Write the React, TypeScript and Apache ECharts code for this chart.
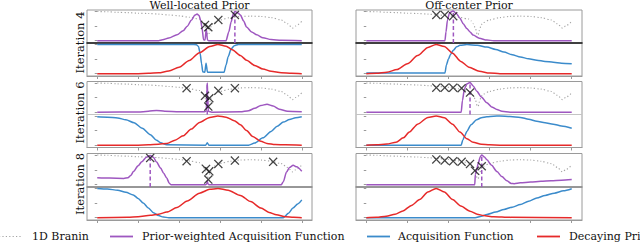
import React, { useEffect, useRef } from 'react';
import * as echarts from 'echarts';

type P = [number, number];

// ---------- data (x normalised 0..1, y normalised) ----------
const branin: P[] = [[0,1.0],[0.05,0.99],[0.1,0.97],[0.15,0.96],[0.2,0.94],[0.25,0.93],[0.3,0.91],[0.35,0.88],[0.4,0.85],[0.45,0.8],[0.5,0.74],[0.51,0.68],[0.52,0.58],[0.53,0.45],[0.54,0.22],[0.545,0.2],[0.55,0.35],[0.56,0.55],[0.57,0.62],[0.6,0.71],[0.65,0.79],[0.7,0.83],[0.75,0.84],[0.8,0.83],[0.85,0.79],[0.9,0.71],[0.93,0.58],[0.955,0.43],[0.97,0.5],[1.0,0.66]];

const l4Purple: P[] = [[0,0],[0.3,0],[0.32,0.03],[0.35,0.09],[0.39,0.2],[0.42,0.34],[0.44,0.49],[0.46,0.7],[0.478,0.88],[0.488,0.91],[0.498,0.86],[0.506,0.68],[0.512,0.45],[0.52,0.03],[0.527,0.02],[0.533,0.4],[0.539,0.02],[0.545,0],[0.63,0],[0.643,0.3],[0.655,0.65],[0.665,0.92],[0.673,1.0],[0.688,0.95],[0.7,0.88],[0.715,0.68],[0.73,0.47],[0.755,0.3],[0.78,0.2],[0.81,0.1],[0.85,0.04],[0.9,0.01],[1,0]];
const l4Argmax: P = [0.673, 1.0];
const l4Obs: P[] = [[0.527,0.54],[0.543,0.46],[0.592,0.71],[0.673,0.88]];
const l4Acq: P[] = [[0,1],[0.46,1],[0.485,0.99],[0.495,0.93],[0.503,0.7],[0.51,0.35],[0.516,0.06],[0.526,0.05],[0.532,0.36],[0.539,0.05],[0.62,0.05],[0.63,0.3],[0.64,0.58],[0.655,0.85],[0.67,0.96],[0.69,1.0],[1,1]];
const l4Prior: P[] = [[0,0],[0.2,0],[0.25,0.01],[0.3,0.03],[0.35,0.09],[0.4,0.22],[0.45,0.45],[0.5,0.72],[0.55,0.93],[0.59,1.0],[0.63,0.94],[0.66,0.82],[0.7,0.62],[0.73,0.46],[0.77,0.28],[0.81,0.16],[0.85,0.08],[0.9,0.03],[0.95,0.01],[1,0]];

const r4Purple: P[] = [[0,0],[0.383,0],[0.388,0.3],[0.395,0.7],[0.405,0.95],[0.422,1.02],[0.437,0.94],[0.456,0.77],[0.472,0.58],[0.489,0.42],[0.505,0.3],[0.52,0.19],[0.55,0.08],[0.587,0.02],[0.62,0],[1,0]];
const r4Argmax: P = [0.424, 1.02];
const r4Obs: P[] = [[0.341,0.88],[0.382,0.88],[0.423,0.84]];
const r4Acq: P[] = [[0,0.02],[0.383,0.02],[0.39,0.3],[0.4,0.5],[0.41,0.66],[0.424,0.8],[0.44,0.92],[0.456,0.97],[0.49,1.0],[0.54,0.97],[0.587,0.91],[0.63,0.83],[0.67,0.74],[0.71,0.65],[0.75,0.57],[0.79,0.51],[0.83,0.46],[0.87,0.42],[0.91,0.39],[0.95,0.36],[1,0.34]];
const r4Prior: P[] = [[0,0],[0.05,0.01],[0.1,0.05],[0.15,0.14],[0.2,0.34],[0.25,0.62],[0.3,0.9],[0.34,1.0],[0.38,0.93],[0.42,0.7],[0.46,0.42],[0.5,0.22],[0.55,0.08],[0.6,0.02],[0.65,0],[1,0]];

const l6Purple: P[] = [[0,0],[0.2,0.005],[0.25,0.03],[0.29,0.06],[0.33,0.03],[0.4,0.01],[0.52,0.01],[0.533,0.03],[0.536,0.6],[0.538,1.0],[0.54,0.6],[0.543,0.03],[0.56,0],[0.7,0.01],[0.74,0.05],[0.77,0.13],[0.8,0.23],[0.83,0.27],[0.86,0.21],[0.89,0.1],[0.93,0.03],[1,0.01]];
const l6Argmax: P = [0.538, 1.0];
const l6Obs: P[] = [[0.437,0.82],[0.527,0.56],[0.548,0.48],[0.543,0.19],[0.592,0.73],[0.673,0.82]];
const l6Acq: P[] = [[0,0.97],[0.05,0.96],[0.1,0.93],[0.14,0.87],[0.18,0.77],[0.22,0.58],[0.26,0.36],[0.29,0.17],[0.31,0.08],[0.34,0.01],[0.53,0],[0.538,0.08],[0.546,0],[0.74,0],[0.77,0.07],[0.81,0.25],[0.85,0.47],[0.88,0.65],[0.91,0.79],[0.94,0.88],[0.97,0.94],[1,0.97]];
const l6Prior: P[] = [[0,0],[0.2,0],[0.25,0.01],[0.3,0.03],[0.34,0.06],[0.38,0.17],[0.42,0.32],[0.46,0.55],[0.5,0.78],[0.55,0.95],[0.59,1.0],[0.63,0.96],[0.67,0.84],[0.7,0.7],[0.73,0.5],[0.76,0.3],[0.8,0.13],[0.83,0.06],[0.87,0.02],[0.92,0.01],[1,0]];

const r6Purple: P[] = [[0,0],[0.462,0],[0.468,0.4],[0.478,0.8],[0.49,0.97],[0.505,1.02],[0.52,0.9],[0.538,0.72],[0.56,0.52],[0.587,0.32],[0.61,0.18],[0.636,0.09],[0.66,0.03],[0.7,0],[1,0]];
const r6Argmax: P = [0.505, 1.02];
const r6Obs: P[] = [[0.341,0.84],[0.382,0.84],[0.423,0.84],[0.464,0.82],[0.505,0.67]];
const r6Acq: P[] = [[0,0],[0.462,0],[0.47,0.18],[0.48,0.33],[0.49,0.48],[0.51,0.7],[0.537,0.87],[0.56,0.94],[0.587,0.97],[0.62,0.99],[0.65,1.0],[0.7,0.98],[0.75,0.95],[0.79,0.89],[0.83,0.82],[0.87,0.77],[0.91,0.72],[0.95,0.66],[1,0.58]];
const r6Prior: P[] = [[0,0],[0.05,0.01],[0.1,0.04],[0.145,0.1],[0.18,0.25],[0.21,0.45],[0.25,0.72],[0.3,0.95],[0.34,1.0],[0.38,0.94],[0.42,0.72],[0.456,0.45],[0.49,0.22],[0.52,0.1],[0.56,0.03],[0.6,0.01],[0.65,0],[1,0]];

const l8Purple: P[] = [[0,0.23],[0.06,0.22],[0.13,0.21],[0.15,0.23],[0.165,0.32],[0.177,0.44],[0.2,0.64],[0.218,0.77],[0.24,0.92],[0.259,0.98],[0.275,0.92],[0.29,0.76],[0.31,0.56],[0.325,0.38],[0.34,0.22],[0.352,0.05],[0.36,0],[0.53,0],[0.536,0.03],[0.538,0.12],[0.541,0.03],[0.546,0],[0.9,0],[0.91,0.1],[0.925,0.42],[0.94,0.58],[0.958,0.65],[0.975,0.6],[1,0.45]];
const l8Argmax: P = [0.259, 0.98];
const l8Obs: P[] = [[0.259,0.9],[0.437,0.79],[0.532,0.53],[0.548,0.45],[0.543,0.17],[0.592,0.7],[0.673,0.81],[0.86,0.77]];
const l8Acq: P[] = [[0,1.0],[0.05,0.98],[0.1,0.94],[0.14,0.87],[0.176,0.78],[0.2,0.66],[0.225,0.5],[0.25,0.33],[0.275,0.17],[0.3,0.07],[0.323,0.02],[0.35,0],[0.91,0],[0.935,0.15],[0.957,0.33],[0.98,0.47],[1,0.61]];
const l8Prior: P[] = [[0,0],[0.15,0.01],[0.2,0.03],[0.26,0.08],[0.3,0.12],[0.34,0.19],[0.39,0.35],[0.44,0.57],[0.5,0.84],[0.55,0.97],[0.59,1.0],[0.64,0.94],[0.7,0.76],[0.75,0.55],[0.8,0.33],[0.84,0.18],[0.876,0.1],[0.92,0.03],[0.96,0.01],[1,0]];

const r8Purple: P[] = [[0,0],[0.528,0],[0.531,0.35],[0.537,0.5],[0.545,0.72],[0.555,0.94],[0.562,1.0],[0.575,0.93],[0.587,0.84],[0.61,0.65],[0.636,0.44],[0.66,0.27],[0.685,0.13],[0.705,0.04],[0.72,0.03],[0.75,0.06],[0.8,0.09],[0.85,0.11],[0.9,0.13],[0.95,0.15],[1,0.17]];
const r8Argmax: P = [0.562, 1.0];
const r8Obs: P[] = [[0.341,0.85],[0.382,0.81],[0.423,0.79],[0.464,0.77],[0.505,0.7],[0.529,0.47],[0.562,0.62]];
const r8Acq: P[] = [[0,0],[0.53,0],[0.56,0.05],[0.587,0.11],[0.63,0.19],[0.67,0.28],[0.71,0.36],[0.75,0.45],[0.79,0.56],[0.83,0.67],[0.87,0.76],[0.915,0.84],[0.96,0.92],[1,0.99]];
const r8Prior: P[] = [[0,0],[0.05,0.01],[0.097,0.05],[0.14,0.12],[0.178,0.23],[0.22,0.42],[0.26,0.62],[0.3,0.88],[0.34,1.0],[0.38,0.88],[0.42,0.62],[0.46,0.4],[0.505,0.22],[0.54,0.12],[0.57,0.07],[0.62,0.03],[0.7,0.01],[1,0]];

const columnTitles = ['Well-located Prior', 'Off-center Prior'];
const rowLabels = ['Iteration 4', 'Iteration 6', 'Iteration 8'];
const legendNames = ['1D Branin', 'Prior-weighted Acquisition Function', 'Acquisition Function', 'Decaying Prior'];
const xTicks = [0, 0.2, 0.4, 0.6, 0.8, 1.0];
const yTicks = [0, 0.5, 1.0];

// ---------- layout / style ----------
const FONT = 'DejaVu Serif';
const PURPLE = '#9e57c0';
const BLUE = '#3b8bcb';
const RED = '#e62a2a';
const GRAY = '#a3a3a3';
const FRAME = '#9a9a9a';
const LEFTS = [87, 356];
const WIDTHS = [225, 226];
const ROWS = [
  { top: 10, h1: 33, h2: 33, div: '#1a1a1a', divW: 1.6 },
  { top: 81.5, h1: 33, h2: 33, div: '#c4c4c4', divW: 1 },
  { top: 153.5, h1: 33.5, h2: 33, div: '#8f8f8f', divW: 1.5 },
];
const ROW_LABEL_Y = [42.5, 112.5, 184];
const XMIN = -0.05, XMAX = 1.05, YMIN = -0.08, YMAX = 1.05;
const XMARK = 'path://M0,1L1,0L5,4L9,0L10,1L6,5L10,9L9,10L5,6L1,10L0,9L4,5Z';

const panels = [
  { row: 0, col: 0, purple: l4Purple, arg: l4Argmax, obs: l4Obs, acq: l4Acq, prior: l4Prior },
  { row: 0, col: 1, purple: r4Purple, arg: r4Argmax, obs: r4Obs, acq: r4Acq, prior: r4Prior },
  { row: 1, col: 0, purple: l6Purple, arg: l6Argmax, obs: l6Obs, acq: l6Acq, prior: l6Prior },
  { row: 1, col: 1, purple: r6Purple, arg: r6Argmax, obs: r6Obs, acq: r6Acq, prior: r6Prior },
  { row: 2, col: 0, purple: l8Purple, arg: l8Argmax, obs: l8Obs, acq: l8Acq, prior: l8Prior },
  { row: 2, col: 1, purple: r8Purple, arg: r8Argmax, obs: r8Obs, acq: r8Acq, prior: r8Prior },
];

function buildOption() {
  const grid: any[] = [];
  const xAxis: any[] = [];
  const yAxis: any[] = [];
  const series: any[] = [];

  panels.forEach((p, i) => {
    const R = ROWS[p.row];
    const left = LEFTS[p.col];
    const width = WIDTHS[p.col];
    const gTop = 2 * i, gBot = 2 * i + 1;
    grid.push({ left, width, top: R.top, height: R.h1, show: true, borderColor: FRAME, borderWidth: 1, backgroundColor: 'transparent' });
    grid.push({ left, width, top: R.top + R.h1, height: R.h2, show: true, borderColor: FRAME, borderWidth: 1, backgroundColor: 'transparent' });
    // top panel x axis: divider line only
    xAxis.push({
      type: 'value', gridIndex: gTop, min: XMIN, max: XMAX, position: 'bottom',
      axisLine: { show: true, onZero: false, lineStyle: { color: R.div, width: R.divW } },
      axisTick: { show: false }, axisLabel: { show: false }, splitLine: { show: false },
    });
    xAxis.push({
      type: 'value', gridIndex: gBot, min: XMIN, max: XMAX, position: 'bottom',
      axisLine: { show: true, onZero: false, lineStyle: { color: FRAME, width: 1.2 } },
      axisTick: { show: true, customValues: xTicks, length: 3, lineStyle: { color: FRAME, width: 1 } },
      axisLabel: { show: false }, splitLine: { show: false },
    });
    [gTop, gBot].forEach((g) => {
      yAxis.push({
        type: 'value', gridIndex: g, min: YMIN, max: YMAX,
        axisLine: { show: false },
        axisTick: { show: true, customValues: yTicks, length: 2.5, lineStyle: { color: FRAME, width: 1 } },
        axisLabel: { show: false }, splitLine: { show: false },
      });
    });

    const lineBase = { type: 'line', showSymbol: false, silent: true, smooth: 0.25, smoothMonotone: 'x', clip: true };
    series.push({ ...lineBase, name: legendNames[0], xAxisIndex: gTop, yAxisIndex: gTop, data: branin, z: 1,
      lineStyle: { color: GRAY, width: 1.1, type: [1.2, 2.2] } });
    series.push({ ...lineBase, name: legendNames[1], xAxisIndex: gTop, yAxisIndex: gTop, data: p.purple, z: 2,
      lineStyle: { color: PURPLE, width: 1.5 } });
    series.push({ ...lineBase, smooth: false, name: 'argmax', xAxisIndex: gTop, yAxisIndex: gTop,
      data: [[p.arg[0], YMIN], [p.arg[0], p.arg[1]]], z: 3,
      lineStyle: { color: PURPLE, width: 1.5, type: [4, 2.5] } });
    series.push({ type: 'scatter', name: 'obs', xAxisIndex: gTop, yAxisIndex: gTop, data: p.obs, z: 5, silent: true,
      symbol: XMARK, symbolSize: 9, itemStyle: { color: '#151515' } });
    series.push({ ...lineBase, name: legendNames[2], xAxisIndex: gBot, yAxisIndex: gBot, data: p.acq, z: 2,
      lineStyle: { color: BLUE, width: 1.5 } });
    series.push({ ...lineBase, name: legendNames[3], xAxisIndex: gBot, yAxisIndex: gBot, data: p.prior, z: 3,
      lineStyle: { color: RED, width: 1.5 } });
  });

  const graphic: any[] = [];
  columnTitles.forEach((t, c) => {
    graphic.push({ type: 'text', x: LEFTS[c] + WIDTHS[c] / 2, y: 5,
      style: { text: t, font: `11px "${FONT}"`, fill: '#111', align: 'center', verticalAlign: 'middle' } });
  });
  rowLabels.forEach((t, r) => {
    graphic.push({ type: 'text', x: 80, y: ROW_LABEL_Y[r], rotation: Math.PI / 2,
      style: { text: t, font: `11.5px "${FONT}"`, fill: '#111', align: 'center', verticalAlign: 'middle' } });
  });
  const LY = 236.5;
  const handles = [
    { x1: -1, x2: 22, color: GRAY, dash: [1.2, 2.2], w: 1.2, tx: 32 },
    { x1: 110, x2: 133, color: PURPLE, dash: null, w: 1.8, tx: 142 },
    { x1: 367, x2: 390, color: BLUE, dash: null, w: 1.8, tx: 398 },
    { x1: 537, x2: 560, color: RED, dash: null, w: 1.8, tx: 569 },
  ];
  handles.forEach((h, k) => {
    graphic.push({ type: 'line', shape: { x1: h.x1, y1: LY, x2: h.x2, y2: LY },
      style: { stroke: h.color, lineWidth: h.w, lineDash: h.dash || undefined } });
    graphic.push({ type: 'text', x: h.tx, y: LY - 0.5,
      style: { text: legendNames[k], font: `11px "${FONT}"`, fill: '#111', align: 'left', verticalAlign: 'middle' } });
  });

  return { animation: false, backgroundColor: '#ffffff', grid, xAxis, yAxis, series, graphic };
}

export default function App() {
  const ref = useRef<HTMLDivElement>(null);
  useEffect(() => {
    document.body.style.margin = '0';
    if (!ref.current) return;
    const chart = echarts.init(ref.current, null, { renderer: 'svg' });
    chart.setOption(buildOption() as any);
    return () => chart.dispose();
  }, []);
  return <div ref={ref} style={{ position: 'fixed', left: 0, top: 0, width: 640, height: 242 }} />;
}
